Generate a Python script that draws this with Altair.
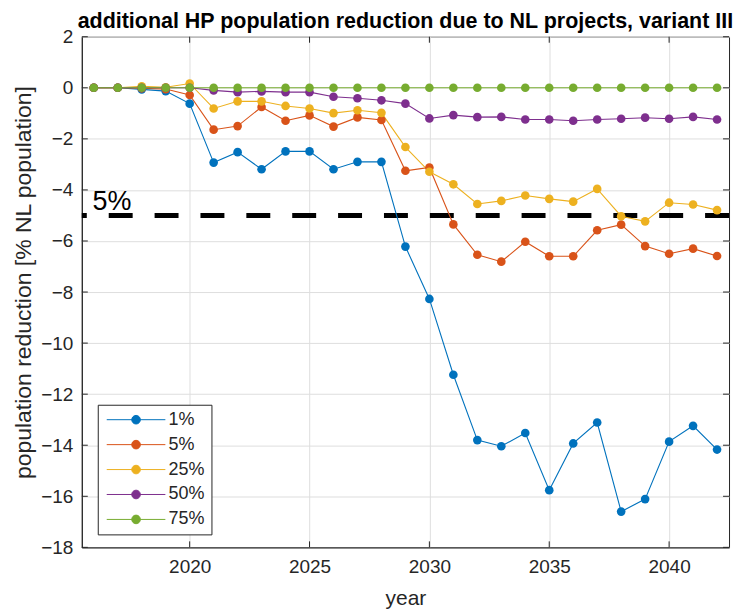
import altair as alt
import pandas as pd

years = list(range(2016, 2043))
series_names = ["1%", "5%", "25%", "50%", "75%"]
s1 = [0, 0, -0.06, -0.13, -0.62, -2.93, -2.52, -3.19, -2.49, -2.49, -3.19, -2.90, -2.90,
      -6.22, -8.27, -11.24, -13.80, -14.04, -13.52, -15.76, -13.93, -13.11, -16.60, -16.11,
      -13.86, -13.24, -14.17]
s5 = [0, 0, -0.02, -0.05, -0.28, -1.64, -1.50, -0.75, -1.29, -1.08, -1.52, -1.16, -1.26,
      -3.25, -3.12, -5.35, -6.54, -6.81, -6.03, -6.60, -6.60, -5.58, -5.36, -6.20,
      -6.50, -6.30, -6.59]
s25 = [0, 0, 0.06, 0.02, 0.17, -0.81, -0.53, -0.53, -0.71, -0.81, -0.99, -0.88, -0.98,
       -2.32, -3.29, -3.78, -4.55, -4.43, -4.22, -4.35, -4.46, -3.96, -5.03, -5.23,
       -4.50, -4.57, -4.79]
s50 = [0, 0, 0, 0, 0, -0.10, -0.17, -0.14, -0.17, -0.17, -0.35, -0.41, -0.49,
       -0.62, -1.20, -1.07, -1.15, -1.14, -1.24, -1.24, -1.29, -1.24, -1.21, -1.17,
       -1.21, -1.14, -1.24]
s75 = [0, 0, 0, 0, 0, 0, 0, 0, 0, 0, 0, 0, 0,
       0, 0, 0, 0, 0, 0, 0, 0, 0, 0, 0,
       0, 0, 0]
colors = ["#0072BD", "#D95319", "#EDB120", "#7E2F8E", "#77AC30"]
x_ticks = [2020, 2025, 2030, 2035, 2040]
y_ticks = [2, 0, -2, -4, -6, -8, -10, -12, -14, -16, -18]
threshold = [-5]
label_x = [2015.95]
label_y = [-4.78]
label_text = ["5%"]

rows = []
for i, (name, vals) in enumerate(zip(series_names, [s1, s5, s25, s50, s75])):
    for yr, v in zip(years, vals):
        rows.append({"year": yr, "value": v, "series": name, "order": i})
df = pd.DataFrame(rows)

W, H = 649, 512
FONT = "Liberation Sans"
TXT = "#262626"

xscale = alt.Scale(domain=[2015.5, 2042.5], nice=False, zero=False)
yscale = alt.Scale(domain=[-18, 2], nice=False, zero=False)
cscale = alt.Scale(domain=series_names, range=colors)

legend_path = ("M-1,0H8.8M4.62,0A0.72,0.72,0,1,1,3.18,0"
               "A0.72,0.72,0,1,1,4.62,0Z")
legend = alt.Legend(orient="none", legendX=16, legendY=369, title=None,
                    symbolType=legend_path, symbolSize=144,
                    symbolStrokeWidth=1, labelFontSize=18, labelColor=TXT,
                    labelOffset=47, rowPadding=7, padding=6,
                    fillColor="white", strokeColor=TXT)

xenc = alt.X("year:Q", scale=xscale,
             axis=alt.Axis(values=x_ticks, format="d", title="year", tickSize=0,
                           labelFontSize=19, titleFontSize=21, labelPadding=10, titlePadding=11,
                           grid=True, gridColor="#dedede", domainColor=TXT))
yenc = alt.Y("value:Q", scale=yscale,
             axis=alt.Axis(values=y_ticks, title="population reduction [% NL population]", tickSize=0,
                           labelFontSize=19, titleFontSize=23, labelPadding=9, titlePadding=5,
                           titleY=246,
                           grid=True, gridColor="#dedede", domainColor=TXT))

base = alt.Chart(df)
lines = base.mark_line(strokeWidth=1.1).encode(
    x=xenc, y=yenc,
    stroke=alt.Stroke("series:N", scale=cscale, legend=legend),
    detail="series:N",
)
points = base.mark_circle(size=75, opacity=1).encode(
    x=alt.X("year:Q", scale=xscale), y=alt.Y("value:Q", scale=yscale),
    fill=alt.Fill("series:N", scale=cscale, legend=legend),
    order=alt.Order("order:Q"),
)

rule_df = pd.DataFrame({"y": threshold})
dash = alt.Chart(rule_df).mark_rule(color="black", strokeWidth=5, strokeDash=[24, 22]).encode(
    y=alt.Y("y:Q", scale=yscale)
)

lab_df = pd.DataFrame({"x": label_x, "y": label_y, "t": label_text})
lab = alt.Chart(lab_df).mark_text(align="left", baseline="alphabetic", fontSize=27, font=FONT,
                                  color="black").encode(
    x=alt.X("x:Q", scale=xscale), y=alt.Y("y:Q", scale=yscale), text="t:N"
)

xt_df = pd.DataFrame({"t": x_ticks})
yt_df = pd.DataFrame({"t": y_ticks})
TL = 6
tick_bottom = alt.Chart(xt_df).mark_rule(color=TXT, strokeWidth=1).encode(
    x=alt.X("t:Q", scale=xscale), y=alt.value(H), y2=alt.value(H - TL))
tick_top = alt.Chart(xt_df).mark_rule(color=TXT, strokeWidth=1).encode(
    x=alt.X("t:Q", scale=xscale), y=alt.value(0), y2=alt.value(TL))
tick_left = alt.Chart(yt_df).mark_rule(color=TXT, strokeWidth=1).encode(
    y=alt.Y("t:Q", scale=yscale), x=alt.value(0), x2=alt.value(TL))
tick_right = alt.Chart(yt_df).mark_rule(color=TXT, strokeWidth=1).encode(
    y=alt.Y("t:Q", scale=yscale), x=alt.value(W), x2=alt.value(W - TL))

chart = alt.layer(tick_bottom, tick_top, tick_left, tick_right, dash, lab, lines, points).properties(
    width=W, height=H,
    autosize=alt.AutoSizeParams(type="none"),
    padding={"left": 74, "top": 28, "right": 10, "bottom": 62},
    title=alt.Title("additional HP population reduction due to NL projects, variant III",
                    fontSize=21.5, fontWeight="bold", font=FONT, color="black", anchor="middle",
                    frame="group", offset=-5),
).configure(font=FONT).configure_axis(
    labelFont=FONT, titleFont=FONT, labelColor=TXT, titleColor=TXT, titleFontWeight="normal"
).configure_legend(labelFont=FONT).configure_view(stroke=TXT, strokeWidth=1)

chart.save("out.html", embed_options={"renderer": "svg", "actions": False})
